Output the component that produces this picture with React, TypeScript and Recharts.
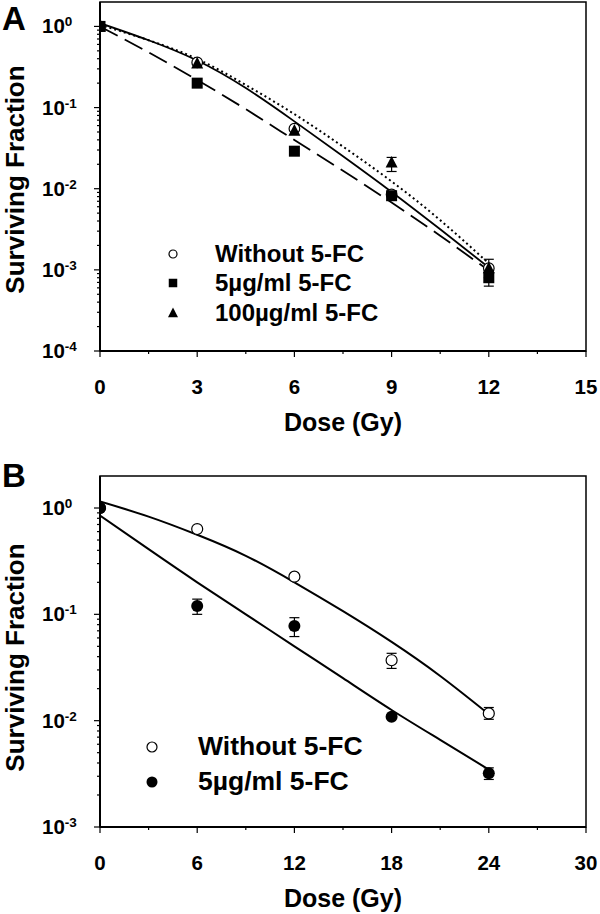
import React from "react";
import {
  ComposedChart,
  Line,
  Scatter,
  XAxis,
  YAxis,
  ErrorBar,
  ReferenceArea,
  Legend,
} from "recharts";

const FONT = '"Liberation Sans", Arial, Helvetica, sans-serif';

// ---- Panel A: surviving fraction vs dose, three 5-FC conditions ----
const doseA = [0, 3, 6, 9, 12];
const sfWithoutA = [1.0, 0.36, 0.055, 0.0085, 0.00105];
const sf5A = [1.0, 0.2, 0.029, 0.0082, 0.0008];
const sf100A = [1.0, 0.35, 0.052, 0.021, 0.00105];
const err5A = [null, null, null, null, [0.00017, 0.00015]];
const err100A = [null, null, null, [0.0047, 0.0033], [0.00025, 0.0003]];

// fitted curves
const fitDoseA = [0, 1.5, 3, 4.5, 6, 7.5, 9, 10.5, 12];
const fitWithoutA = [1.096, 0.676, 0.38, 0.174, 0.0676, 0.0251, 0.00912, 0.00316, 0.00107];
const fit5A = [1.0, 0.479, 0.219, 0.0955, 0.0398, 0.0166, 0.00676, 0.00263, 0.00098];
const fit100A = [1.05, 0.676, 0.398, 0.19, 0.083, 0.033, 0.0123, 0.0041, 0.0012];

const xTicksA = [0, 3, 6, 9, 12, 15];
const xMinorA = [1.5, 4.5, 7.5, 10.5, 13.5];
const decadesA = [1e-4, 1e-3, 1e-2, 1e-1, 1];

// ---- Panel B: two conditions ----
const doseB = [0, 6, 12, 18, 24];
const sfWithoutB = [1.0, 0.634, 0.226, 0.037, 0.0117];
const sf5B = [1.0, 0.12, 0.0776, 0.0109, 0.0032];
const errWithoutB = [null, null, null, [0.006, 0.006], [0.0014, 0.0016]];
const err5B = [null, [0.02, 0.019], [0.0158, 0.0154], null, [0.0004, 0.0004]];

const fitDoseB = [0, 3, 6, 9, 12, 15, 18, 21, 24];
const fitWithoutB = [1.15, 0.83, 0.56, 0.355, 0.2, 0.107, 0.055, 0.0263, 0.0115];
const fit5B = [0.85, 0.41, 0.2, 0.1, 0.05, 0.0251, 0.0126, 0.0066, 0.00347];

const xTicksB = [0, 6, 12, 18, 24, 30];
const xMinorB = [3, 9, 15, 21, 27];
const decadesB = [1e-3, 1e-2, 1e-1, 1];

const rows = (xs: number[], ys: number[], errs?: any[]) =>
  xs.map((d, i) => ({ dose: d, sf: ys[i], err: errs ? errs[i] : null }));

// minor log ticks 2..9 within each decade
const minorLog = (dec: number[]) =>
  dec.slice(0, -1).flatMap((d) => [2, 3, 4, 5, 6, 7, 8, 9].map((k) => k * d));

const isDecade = (v: number) => Math.abs(Math.log10(v) - Math.round(Math.log10(v))) < 1e-6;

const LogTick = (props: any) => {
  const { x, y, payload } = props;
  const v = payload.value;
  const major = isDecade(v);
  const exp = Math.round(Math.log10(v));
  return (
    <g>
      <line x1={x - (major ? 6 : 3)} x2={x} y1={y} y2={y} stroke="#000" strokeWidth={1.2} />
      {major && (
        <text x={x - 58} y={y + 7} textAnchor="start" fontFamily={FONT} fontWeight="bold" fontSize={20.5} fill="#000">
          10
          <tspan dy={-7} fontSize={13.5}>
            {exp}
          </tspan>
        </text>
      )}
    </g>
  );
};

const makeDoseTick = (majors: number[]) => (props: any) => {
  const { x, y, payload } = props;
  const major = majors.includes(payload.value);
  return (
    <g>
      <line x1={x} x2={x} y1={y} y2={y + (major ? 6 : 3)} stroke="#000" strokeWidth={1.2} />
      {major && (
        <text x={x} y={y + 43} textAnchor="middle" fontFamily={FONT} fontWeight="bold" fontSize={20.5} fill="#000">
          {payload.value}
        </text>
      )}
    </g>
  );
};

const yTitle = (shift: number) => (props: any) => {
  const vb = props.viewBox || {};
  const cx = vb.x + 23.5;
  const cy = vb.y + vb.height / 2 + shift;
  return (
    <text
      x={cx}
      y={cy}
      transform={`rotate(-90, ${cx}, ${cy})`}
      textAnchor="middle"
      fontFamily={FONT}
      fontWeight="bold"
      fontSize={26}
      fill="#000"
    >
      Surviving Fraction
    </text>
  );
};

const xTitle = (props: any) => {
  const vb = props.viewBox || {};
  return (
    <text
      x={vb.x + vb.width / 2}
      y={vb.y + 80}
      textAnchor="middle"
      fontFamily={FONT}
      fontWeight="bold"
      fontSize={25}
      fill="#000"
    >
      Dose (Gy)
    </text>
  );
};

const openCircle = (r: number) => (p: any) => (
  <circle cx={p.cx} cy={p.cy} r={r} fill="#fff" stroke="#000" strokeWidth={1.2} />
);
const filledCircle = (r: number) => (p: any) => <circle cx={p.cx} cy={p.cy} r={r} fill="#000" />;
const square = (s: number) => (p: any) => (
  <rect x={p.cx - s / 2} y={p.cy - s / 2} width={s} height={s} fill="#000" />
);
const triangle = (s: number) => (p: any) => (
  <path
    d={`M${p.cx},${p.cy - s * 0.55} L${p.cx + s / 2},${p.cy + s * 0.42} L${p.cx - s / 2},${p.cy + s * 0.42} Z`}
    fill="#000"
  />
);

const legendA = [
  { label: "Without 5-FC", icon: openCircle(4) },
  { label: "5µg/ml 5-FC", icon: square(8.5) },
  { label: "100µg/ml 5-FC", icon: triangle(10) },
];
const legendB = [
  { label: "Without 5-FC", icon: openCircle(5) },
  { label: "5µg/ml 5-FC", icon: filledCircle(5.5) },
];

const legendContent = (items: any[], gap: number, rowH: number, fontSize: number) => () => (
  <div style={{ fontFamily: FONT, fontWeight: "bold", fontSize, color: "#000" }}>
    {items.map((it) => (
      <div key={it.label} style={{ display: "flex", alignItems: "center", height: rowH, whiteSpace: "nowrap" }}>
        <svg width={20} height={20} style={{ flex: "none" }}>
          {it.icon({ cx: 10, cy: 10 })}
        </svg>
        <span style={{ marginLeft: gap }}>{it.label}</span>
      </div>
    ))}
  </div>
);

const axisStyle = { stroke: "#000", strokeWidth: 2 };

function PanelA() {
  const ticksX = [...xTicksA, ...xMinorA].sort((a, b) => a - b);
  const ticksY = [...decadesA, ...minorLog(decadesA)].sort((a, b) => a - b);
  return (
    <ComposedChart width={600} height={440} margin={{ top: 2, right: 14, bottom: 0, left: 0 }}>
      <XAxis
        type="number"
        dataKey="dose"
        domain={[0, 15]}
        allowDataOverflow
        ticks={ticksX}
        interval={0}
        tickSize={0}
        tickMargin={0}
        tickLine={false}
        tick={makeDoseTick(xTicksA)}
        axisLine={axisStyle}
        height={89}
        label={{ content: xTitle }}
      />
      <YAxis
        type="number"
        scale="log"
        domain={[1e-4, 2]}
        allowDataOverflow
        ticks={ticksY}
        interval={0}
        tickSize={0}
        tickMargin={0}
        tickLine={false}
        tick={LogTick}
        axisLine={axisStyle}
        width={100}
        label={{ content: yTitle(3) }}
      />
      <ReferenceArea x1={0} x2={15} y1={1e-4} y2={2} fill="none" stroke="#000" strokeWidth={1.5} />
      <Line data={rows(fitDoseA, fitWithoutA)} dataKey="sf" type="natural" stroke="#000" strokeWidth={1.8} dot={false} isAnimationActive={false} />
      <Line data={rows(fitDoseA, fit5A)} dataKey="sf" type="natural" stroke="#000" strokeWidth={1.8} strokeDasharray="20 8" dot={false} isAnimationActive={false} />
      <Line data={rows(fitDoseA, fit100A)} dataKey="sf" type="natural" stroke="#000" strokeWidth={2} strokeDasharray="2 3" dot={false} isAnimationActive={false} />
      <Scatter data={rows(doseA, sfWithoutA)} dataKey="sf" shape={openCircle(5.3)} isAnimationActive={false} />
      <Scatter data={rows(doseA, sf5A, err5A)} dataKey="sf" shape={square(11)} isAnimationActive={false}>
        <ErrorBar dataKey="err" direction="y" width={5} stroke="#000" strokeWidth={1.2} />
      </Scatter>
      <Scatter data={rows(doseA, sf100A, err100A)} dataKey="sf" shape={triangle(12)} isAnimationActive={false}>
        <ErrorBar dataKey="err" direction="y" width={5} stroke="#000" strokeWidth={1.2} />
      </Scatter>
      <Legend
        layout="vertical"
        align="center"
        verticalAlign="middle"
        content={legendContent(legendA, 32, 29.5, 24)}
        wrapperStyle={{ left: 163, top: 239, width: "auto" }}
      />
    </ComposedChart>
  );
}

function PanelB() {
  const ticksX = [...xTicksB, ...xMinorB].sort((a, b) => a - b);
  const ticksY = [...decadesB, ...minorLog(decadesB)].sort((a, b) => a - b);
  return (
    <ComposedChart width={600} height={474} margin={{ top: 36, right: 14, bottom: 0, left: 0 }}>
      <XAxis
        type="number"
        dataKey="dose"
        domain={[0, 30]}
        allowDataOverflow
        ticks={ticksX}
        interval={0}
        tickSize={0}
        tickMargin={0}
        tickLine={false}
        tick={makeDoseTick(xTicksB)}
        axisLine={axisStyle}
        height={87}
        label={{ content: xTitle }}
      />
      <YAxis
        type="number"
        scale="log"
        domain={[1e-3, 2]}
        allowDataOverflow
        ticks={ticksY}
        interval={0}
        tickSize={0}
        tickMargin={0}
        tickLine={false}
        tick={LogTick}
        axisLine={axisStyle}
        width={100}
        label={{ content: yTitle(6) }}
      />
      <ReferenceArea x1={0} x2={30} y1={1e-3} y2={2} fill="none" stroke="#000" strokeWidth={1.5} />
      <Line data={rows(fitDoseB, fitWithoutB)} dataKey="sf" type="natural" stroke="#000" strokeWidth={2} dot={false} isAnimationActive={false} />
      <Line data={rows(fitDoseB, fit5B)} dataKey="sf" type="natural" stroke="#000" strokeWidth={2} dot={false} isAnimationActive={false} />
      <Scatter data={rows(doseB, sfWithoutB, errWithoutB)} dataKey="sf" shape={openCircle(5.5)} isAnimationActive={false}>
        <ErrorBar dataKey="err" direction="y" width={5} stroke="#000" strokeWidth={1.2} />
      </Scatter>
      <Scatter data={rows(doseB, sf5B, err5B)} dataKey="sf" shape={filledCircle(6)} isAnimationActive={false}>
        <ErrorBar dataKey="err" direction="y" width={5} stroke="#000" strokeWidth={1.2} />
      </Scatter>
      <Legend
        layout="vertical"
        align="center"
        verticalAlign="middle"
        content={legendContent(legendB, 36, 35, 26.5)}
        wrapperStyle={{ left: 142, top: 289, width: "auto" }}
      />
    </ComposedChart>
  );
}

export default function App() {
  return (
    <div style={{ position: "absolute", left: 0, top: 0, width: 600, height: 914, background: "#fff" }}>
      <div style={{ position: "absolute", left: 0, top: 0 }}>
        <PanelA />
      </div>
      <div style={{ position: "absolute", left: 0, top: 440 }}>
        <PanelB />
      </div>
      <svg style={{ position: "absolute", left: 0, top: 0 }} width={44} height={44}>
        <text x={2} y={30} fontFamily={FONT} fontWeight="bold" fontSize={33} fill="#000">
          A
        </text>
      </svg>
      <svg style={{ position: "absolute", left: 0, top: 446 }} width={44} height={50}>
        <text x={2} y={41} fontFamily={FONT} fontWeight="bold" fontSize={33} fill="#000">
          B
        </text>
      </svg>
    </div>
  );
}
